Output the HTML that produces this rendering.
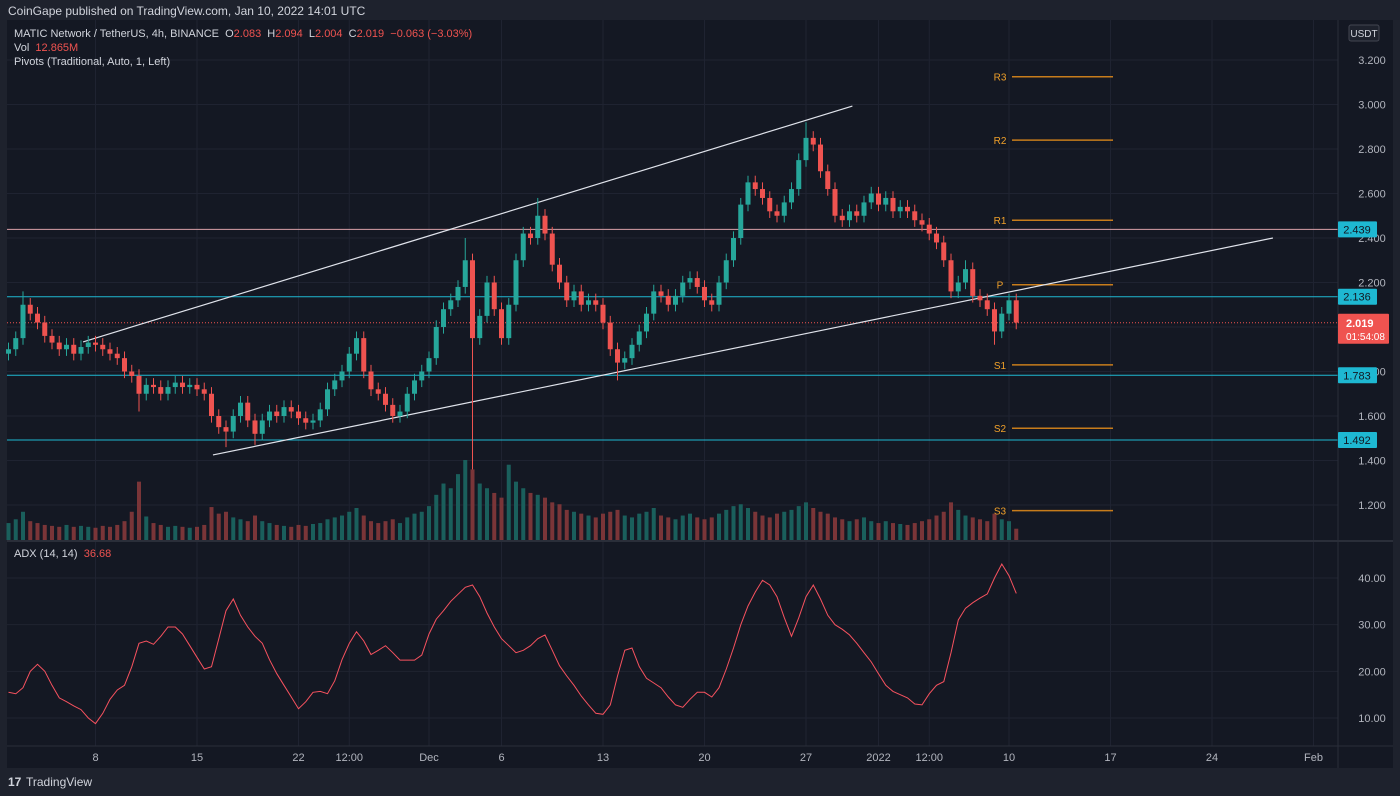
<!DOCTYPE html>
<html><head><meta charset="utf-8">
<style>
body{margin:0;background:#1e222d;width:1400px;height:796px;overflow:hidden;font-family:"Liberation Sans",sans-serif}
svg{position:absolute;left:0;top:0}
text{font-family:"Liberation Sans",sans-serif}
</style></head>
<body>
<svg id="c" width="1400" height="796">
  <rect x="0" y="0" width="1400" height="796" fill="#1e222d"/>
  <rect x="7" y="20" width="1386" height="748" fill="#141823"/>
  <text x="8" y="15" fill="#d1d4dc" font-size="12">CoinGape published on TradingView.com, Jan 10, 2022 14:01 UTC</text>
  <g id="grid"></g>
  <g id="vol"></g>
  <g id="lines"></g>
  <g id="candles"></g>
  <g id="adx"></g>
  <g id="axes"></g>
  <text x="14" y="37" font-size="11" fill="#d1d4dc" xml:space="preserve">MATIC Network / TetherUS, 4h, BINANCE  O<tspan fill="#ef5350">2.083</tspan>  H<tspan fill="#ef5350">2.094</tspan>  L<tspan fill="#ef5350">2.004</tspan>  C<tspan fill="#ef5350">2.019</tspan>  <tspan fill="#ef5350">−0.063 (−3.03%)</tspan></text>
  <text x="14" y="51" font-size="11" fill="#d1d4dc" xml:space="preserve">Vol  <tspan fill="#ef5350">12.865M</tspan></text>
  <text x="14" y="65" font-size="11" fill="#d1d4dc">Pivots (Traditional, Auto, 1, Left)</text>
  <text x="14" y="557" font-size="11" fill="#d1d4dc" xml:space="preserve">ADX (14, 14)  <tspan fill="#ef5350">36.68</tspan></text>
  <g>
    <text x="8" y="786" font-size="12" font-weight="bold" fill="#d1d4dc">17</text>
    <text x="26" y="786" font-size="12" fill="#d1d4dc">TradingView</text>
  </g>
</svg>
<script>
const closes=[1.90,1.95,2.10,2.06,2.02,1.96,1.93,1.90,1.92,1.88,1.91,1.93,1.92,1.90,1.88,1.86,1.80,1.78,1.70,1.74,
1.73,1.70,1.73,1.75,1.73,1.74,1.72,1.70,1.60,1.55,1.53,1.60,1.66,1.58,1.52,1.58,1.62,1.60,1.64,1.62,
1.59,1.57,1.58,1.63,1.72,1.76,1.80,1.88,1.95,1.80,1.72,1.70,1.65,1.60,1.62,1.70,1.76,1.80,1.86,2.00,
2.08,2.12,2.18,2.30,1.95,2.05,2.20,2.08,1.95,2.10,2.30,2.42,2.40,2.50,2.42,2.28,2.20,2.12,2.16,2.10,
2.12,2.10,2.02,1.90,1.84,1.86,1.92,1.98,2.06,2.16,2.14,2.10,2.14,2.20,2.22,2.18,2.12,2.10,2.20,2.30,
2.40,2.55,2.65,2.62,2.58,2.52,2.50,2.56,2.62,2.75,2.85,2.82,2.70,2.62,2.50,2.48,2.52,2.50,2.56,2.60,
2.55,2.58,2.52,2.54,2.52,2.48,2.46,2.42,2.38,2.30,2.16,2.20,2.26,2.14,2.12,2.08,1.98,2.06,2.12,2.02];
const lowSpikes={64:1.36,34:1.47,30:1.46,84:1.76,136:1.92,18:1.62};
const highSpikes={2:2.16,63:2.40,73:2.58,110:2.92,132:2.30,48:1.98};
const volumes=[18,22,30,20,18,16,15,14,16,14,15,14,13,15,14,16,20,30,62,25,
18,16,14,15,14,13,14,16,35,28,30,24,22,20,26,20,18,16,15,14,
16,15,17,18,22,24,26,30,34,26,20,18,20,22,18,24,28,30,36,48,
60,55,70,85,75,60,55,50,45,80,62,55,50,48,45,40,38,32,30,28,
26,24,28,30,32,26,24,28,30,34,26,24,22,26,28,24,22,24,28,32,
36,38,34,30,26,24,28,30,32,36,40,34,30,28,24,22,20,22,24,20,
18,20,18,17,16,18,20,22,26,30,40,32,26,24,22,20,28,22,20,12];
const adxVals=[15.5,15.2,16.5,20,21.5,20,17,14.3,13.5,12.6,11.8,10,8.8,11,14,16,17,21,26,26.5,
25.8,27.5,29.5,29.5,28,25.5,23,20.5,21,27,33,35.5,32,29.5,27.5,26,22.5,19.5,17,14.5,
12,13.5,15.5,15.7,15.2,18,22.5,26,28.5,26.5,23.6,24.5,25.5,24,22.4,22.4,22.4,23.5,28,31.2,
33,35,36.5,38,38.5,36,32.5,29.5,27,25.5,24,24.5,25.5,27,27.8,24.5,21.2,19,17,14.7,
12.8,11,10.8,12.8,19,24.5,25,21,18.5,17.5,16.5,14.5,12.8,12.3,14,15.5,15.5,14.5,16.5,20.5,
25,30,34,37,39.5,38.5,36,31.5,27.5,31.5,36,38.5,35.5,32,30,29,27.8,26,24,22,
19.5,17,15.7,15,14.3,13,12.8,15.2,17,17.8,24,31,33.5,34.7,35.7,36.6,40,43,40.5,36.7];
const priceTicks=[3.2,3.0,2.8,2.6,2.4,2.2,2.0,1.8,1.6,1.4,1.2];
const adxTicks=[40,30,20,10];
const timeLabels=["8","15","22","12:00","Dec","6","13","20","27","2022","12:00","10","17","24","Feb"];
const timeDays=[7,14,21,24.5,30,35,42,49,56,61,64.5,70,77,84,91];
const pivotNames=["R3","R2","R1","P","S1","S2","S3"];
const pivotVals=[3.125,2.84,2.48,2.19,1.83,1.545,1.175];
const hLevels=[2.439,2.136,1.783,1.492];
const lastPrice=2.019;
const trendUpper=[[6.14,1.933],[59.2,2.993]];
const trendLower=[[15.1,1.425],[88.2,2.40]];

const NS="http://www.w3.org/2000/svg";
function el(p,t,a){const e=document.createElementNS(NS,t);for(const k in a)e.setAttribute(k,a[k]);p.appendChild(e);return e;}
const py=p=>60+(3.2-p)*222.5;
const ay=v=>578+(40-v)*4.6667;
const dx=d=>-6+d*14.5;
const ix=i=>dx(1+i*0.5);
const G=id=>document.getElementById(id);
const grid=G('grid'),vol=G('vol'),lines=G('lines'),cg=G('candles'),adx=G('adx'),axes=G('axes');

priceTicks.forEach(p=>{const l=el(grid,'line',{x1:7,x2:1338,y1:py(p),y2:py(p),stroke:'#1f2331'});
});
adxTicks.forEach(v=>{const l=el(grid,'line',{x1:7,x2:1338,y1:ay(v),y2:ay(v),stroke:'#1f2331'});
});
timeDays.forEach(d=>{const l=el(grid,'line',{x1:dx(d),x2:dx(d),y1:20,y2:746,stroke:'#1f2331'});
});

const vmax=Math.max(...volumes);
volumes.forEach((v,i)=>{const up=i===0||closes[i]>=closes[i-1];const h=v/vmax*80;
const r=el(vol,'rect',{x:ix(i)-2,y:540-h,width:4,height:h,fill:up?'#1a5f5c':'#7a3538'});
});

hLevels.forEach((p,k)=>{const l=el(lines,'line',{x1:7,x2:1338,y1:py(p),y2:py(p),stroke:k===0?'#d9a0a8':'#1eb8d2','stroke-width':1});
});
const lp=el(lines,'line',{x1:7,x2:1338,y1:py(lastPrice),y2:py(lastPrice),stroke:'#ef5350','stroke-dasharray':'1 2'});

pivotNames.forEach((n,k)=>{const y=py(pivotVals[k]);
const l=el(lines,'line',{x1:1012,x2:1113,y1:y,y2:y,stroke:'#c77c1b','stroke-width':1.5});

const t=el(lines,'text',{x:1000,y:y+4,fill:'#f0a02a','font-size':10,'text-anchor':'middle'});t.textContent=n;
});

closes.forEach((c,i)=>{const o=i===0?1.88:closes[i-1];const up=c>=o;
const hi=highSpikes[i]!==undefined?highSpikes[i]:Math.max(o,c)+0.03;
const lo=lowSpikes[i]!==undefined?lowSpikes[i]:Math.min(o,c)-0.03;
const col=up?'#26a69a':'#ef5350';const x=ix(i);
const w=el(cg,'line',{x1:x,x2:x,y1:py(hi),y2:py(lo),stroke:col});

const b=el(cg,'rect',{x:x-2.5,y:py(Math.max(o,c)),width:5,height:Math.max(1,Math.abs(py(o)-py(c))),fill:col});
});

[trendUpper,trendLower].forEach((t,k)=>{const l=el(lines,'line',{x1:dx(t[0][0]),y1:py(t[0][1]),x2:dx(t[1][0]),y2:py(t[1][1]),stroke:'#e0e3eb','stroke-width':1.2});
});

const sep=el(adx,'line',{x1:7,x2:1393,y1:541,y2:541,stroke:'#2a2e39','stroke-width':2});

const pth=el(adx,'path',{d:adxVals.map((v,i)=>(i?'L':'M')+ix(i).toFixed(1)+' '+ay(v).toFixed(1)).join(''),fill:'none',stroke:'#f7525f','stroke-width':1});


const ax=el(axes,'line',{x1:1338,x2:1338,y1:20,y2:768,stroke:'#2a2e39'});

const tx=el(axes,'line',{x1:7,x2:1393,y1:746,y2:746,stroke:'#2a2e39'});

priceTicks.forEach(p=>{const t=el(axes,'text',{x:1372,y:py(p)+4,fill:'#b2b5be','font-size':11,'text-anchor':'middle'});t.textContent=p.toFixed(3);
});
adxTicks.forEach(v=>{const t=el(axes,'text',{x:1372,y:ay(v)+4,fill:'#b2b5be','font-size':11,'text-anchor':'middle'});t.textContent=v.toFixed(2);
});
timeLabels.forEach((s,k)=>{const t=el(axes,'text',{x:dx(timeDays[k]),y:761,fill:'#b2b5be','font-size':11,'text-anchor':'middle'});t.textContent=s;
});
const ub=el(axes,'rect',{x:1349,y:25,width:30,height:16,rx:2,fill:'#1e222d',stroke:'#434651'});

const ut=el(axes,'text',{x:1364,y:37,fill:'#d1d4dc','font-size':10,'text-anchor':'middle'});ut.textContent='USDT';

hLevels.forEach(p=>{const y=py(p);
const r=el(axes,'rect',{x:1338,y:y-8,width:39,height:16,rx:1,fill:'#1eb8d2'});

const t=el(axes,'text',{x:1357,y:y+4,fill:'#131722','font-size':11,'text-anchor':'middle'});t.textContent=p.toFixed(3);
});
const ly=py(lastPrice);
const lr=el(axes,'rect',{x:1338,y:ly-9,width:51,height:30,rx:1,fill:'#ef5350'});

const lt=el(axes,'text',{x:1346,y:ly+4,fill:'#fff','font-size':11,'font-weight':'bold'});lt.textContent=lastPrice.toFixed(3);

const ct=el(axes,'text',{x:1346,y:ly+17,fill:'#fff','font-size':10});ct.textContent='01:54:08';

</script>
</body></html>
